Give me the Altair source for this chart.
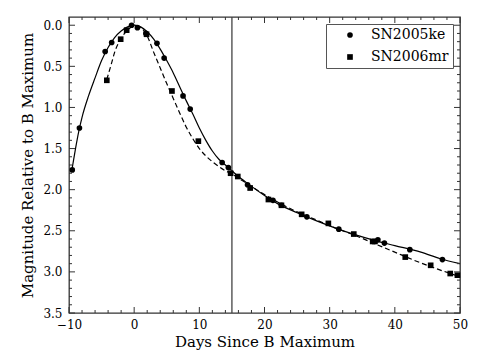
import altair as alt
import pandas as pd

# ---- observed photometry ----
ke_days = [-9.5, -8.4, -4.45, -3.45, -0.4, 0.5, 1.8, 3.5, 4.6, 7.5, 8.6, 13.5, 14.45,
           17.4, 21.3, 22.6, 26.5, 31.4, 37.4, 38.4, 42.3, 47.3]
ke_mag = [1.76, 1.25, 0.32, 0.21, 0.00, 0.03, 0.10, 0.22, 0.40, 0.86, 1.02, 1.67, 1.73,
          1.94, 2.13, 2.19, 2.33, 2.48, 2.61, 2.65, 2.73, 2.85]

mr_days = [-4.2, -2.07, -1.15, 1.9, 5.8, 9.85, 14.8, 15.9, 17.8, 20.6, 22.6, 25.7, 29.8,
           33.7, 36.6, 36.95, 41.6, 45.5, 48.5, 49.6]
mr_mag = [0.67, 0.17, 0.06, 0.11, 0.80, 1.41, 1.80, 1.84, 1.98, 2.12, 2.19, 2.30, 2.41,
          2.54, 2.63, 2.63, 2.82, 2.92, 3.02, 3.04]

# ---- template fits ----
ke_fit_days = [-9.6, -9, -8.5, -8, -7, -6, -5, -4, -3, -2, -1, 0, 1, 2, 3, 4, 5, 6, 7, 8,
               9, 10, 11, 12, 13, 14, 15, 16, 17, 18, 20, 22, 25, 28, 31, 34, 37, 40, 44, 47, 50]
ke_fit_mag = [1.78, 1.50, 1.29, 1.12, 0.86, 0.64, 0.43, 0.27, 0.15, 0.07, 0.02, 0.00, 0.02,
              0.08, 0.17, 0.29, 0.43, 0.58, 0.75, 0.92, 1.08, 1.25, 1.40, 1.53, 1.63, 1.70,
              1.77, 1.84, 1.90, 1.96, 2.07, 2.17, 2.28, 2.38, 2.47, 2.55, 2.62, 2.68, 2.76,
              2.84, 2.90]

mr_fit_days = [-4.2, -3.5, -3, -2, -1, 0, 1, 2, 3, 4, 5, 6, 7, 8, 9, 10, 11, 12, 13, 14,
               15, 16, 18, 20, 22, 25, 28, 31, 34, 37, 40, 43, 46, 50]
mr_fit_mag = [0.66, 0.47, 0.33, 0.16, 0.06, 0.01, 0.03, 0.13, 0.33, 0.52, 0.71, 0.89, 1.07,
              1.24, 1.38, 1.50, 1.59, 1.66, 1.72, 1.77, 1.81, 1.86, 1.96, 2.06, 2.15, 2.27,
              2.37, 2.47, 2.56, 2.66, 2.76, 2.86, 2.95, 3.06]

vline_day = [15]

names = ["SN2005ke", "SN2006mr"]

x_major = [-10, 0, 10, 20, 30, 40, 50]
x_minor = [-8, -6, -4, -2, 2, 4, 6, 8, 12, 14, 16, 18, 22, 24, 26, 28, 32, 34, 36, 38,
           42, 44, 46, 48]
y_major = [0.0, 0.5, 1.0, 1.5, 2.0, 2.5, 3.0, 3.5]
y_minor = [0.1, 0.2, 0.3, 0.4, 0.6, 0.7, 0.8, 0.9, 1.1, 1.2, 1.3, 1.4, 1.6, 1.7, 1.8, 1.9,
           2.1, 2.2, 2.3, 2.4, 2.6, 2.7, 2.8, 2.9, 3.1, 3.2, 3.3, 3.4]

W, H = 391, 296
FONT = "DejaVu Serif"
FRAME = "#333333"

pts = pd.concat([
    pd.DataFrame({"day": ke_days, "mag": ke_mag, "sn": names[0]}),
    pd.DataFrame({"day": mr_days, "mag": mr_mag, "sn": names[1]}),
])
ke_fit = pd.DataFrame({"day": ke_fit_days, "mag": ke_fit_mag})
mr_fit = pd.DataFrame({"day": mr_fit_days, "mag": mr_fit_mag})

xs = alt.Scale(domain=[-10, 50], nice=False, zero=False)
ys = alt.Scale(domain=[-0.1, 3.5], reverse=True, nice=False, zero=False)

x_axis = alt.Axis(values=x_major, title="Days Since B Maximum", grid=False, domain=False,
                  ticks=False, labelPadding=6, labelFontSize=12, titleFontSize=15,
                  labelFont=FONT, titleFont=FONT,
                  titleFontWeight="normal", titlePadding=4, labelColor="black",
                  titleColor="black", labelFlush=False)
y_axis = alt.Axis(values=y_major, format=".1f", title="Magnitude Relative to B Maximum",
                  grid=False, domain=False, ticks=False, labelPadding=7, labelFontSize=12,
                  labelFont=FONT, titleFont=FONT,
                  titleFontSize=15, titleFontWeight="normal", titlePadding=7,
                  labelColor="black", titleColor="black", labelFlush=False)


def X(field):
    return alt.X(field, scale=xs, axis=x_axis)


def Y(field):
    return alt.Y(field, scale=ys, axis=y_axis)


fit_ke = alt.Chart(ke_fit).mark_line(color="black", strokeWidth=1.2, interpolate="monotone").encode(
    x=X("day:Q"), y=Y("mag:Q"))
fit_mr = alt.Chart(mr_fit).mark_line(color="black", strokeWidth=1.2, strokeDash=[5, 3],
                                     interpolate="monotone").encode(
    x=X("day:Q"), y=Y("mag:Q"))

points = alt.Chart(pts).mark_point(filled=True, opacity=1, color="black", size=32).encode(
    x=X("day:Q"), y=Y("mag:Q"),
    shape=alt.Shape("sn:N", scale=alt.Scale(domain=names, range=["circle", "square"]),
                    legend=alt.Legend(title=None, orient="top-right", offset=7,
                                      labelFont=FONT, labelFontSize=14, labelColor="black",
                                      symbolFillColor="black", symbolStrokeColor="black",
                                      symbolSize=32, symbolStrokeWidth=0,
                                      padding=4, symbolOffset=13, labelOffset=14,
                                      rowPadding=8, strokeColor="#555555",
                                      fillColor="white", cornerRadius=0)),
)

vline = alt.Chart(pd.DataFrame({"day": vline_day})).mark_rule(color="#444444", strokeWidth=1.3).encode(
    x=X("day:Q"))


def xticks(vals, length):
    df = pd.DataFrame({"v": vals})
    bottom = alt.Chart(df).mark_rule(color=FRAME, strokeWidth=1).encode(
        x=X("v:Q"), y=alt.value(H), y2=alt.value(H - length))
    top = alt.Chart(df).mark_rule(color=FRAME, strokeWidth=1).encode(
        x=X("v:Q"), y=alt.value(0), y2=alt.value(length))
    return [bottom, top]


def yticks(vals, length):
    df = pd.DataFrame({"v": vals})
    left = alt.Chart(df).mark_rule(color=FRAME, strokeWidth=1).encode(
        y=Y("v:Q"), x=alt.value(0), x2=alt.value(length))
    right = alt.Chart(df).mark_rule(color=FRAME, strokeWidth=1).encode(
        y=Y("v:Q"), x=alt.value(W), x2=alt.value(W - length))
    return [left, right]


layers = ([fit_ke, fit_mr, vline, points] + xticks(x_major, 6) + xticks(x_minor, 3)
          + yticks(y_major, 6) + yticks(y_minor, 3))

chart = alt.layer(*layers).properties(
    width=W, height=H,
    autosize=alt.AutoSizeParams(type="none"),
    padding={"left": 61, "top": 9, "right": 17, "bottom": 42},
).configure(font=FONT).configure_view(stroke=FRAME, strokeWidth=1.3)

chart.save("out.html", embed_options={"renderer": "svg", "actions": False})
